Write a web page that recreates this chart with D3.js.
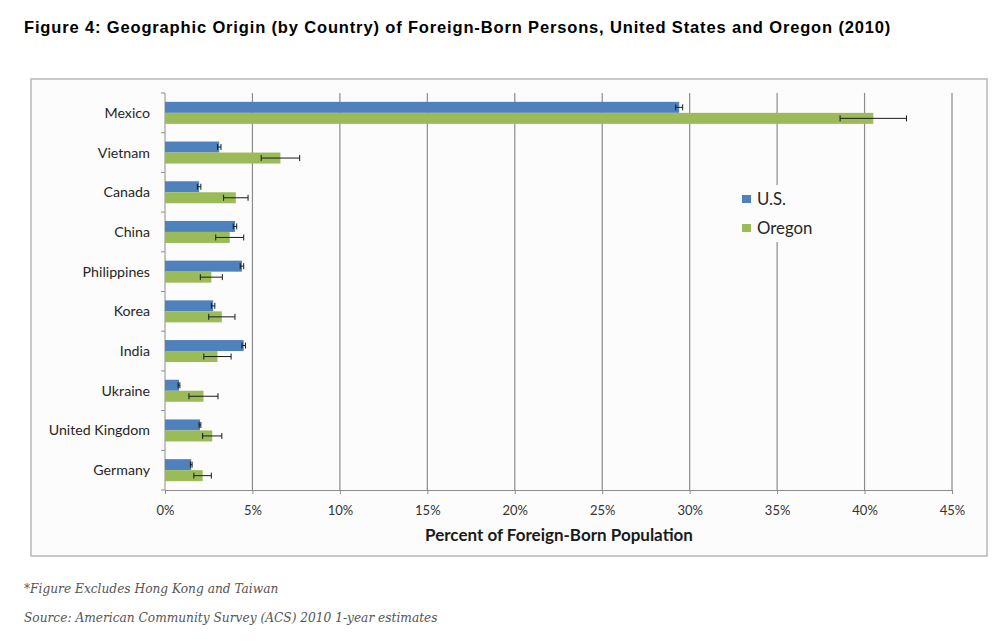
<!DOCTYPE html>
<html>
<head>
<meta charset="utf-8">
<script src="https://cdn.jsdelivr.net/npm/d3@7"></script>
<style>
  body { margin: 0; background: #fff; }
  svg { display: block; }
</style>
</head>
<body>
<svg width="999" height="642"></svg>
<script>
// data (percent of foreign-born population)
var countries = ['Mexico', 'Vietnam', 'Canada', 'China', 'Philippines', 'Korea', 'India', 'Ukraine', 'United Kingdom', 'Germany'];
var usValues = [29.4, 3.1, 1.95, 4.0, 4.4, 2.75, 4.5, 0.8, 2.0, 1.5];
var usErrors = [0.2, 0.1, 0.1, 0.1, 0.1, 0.1, 0.1, 0.05, 0.05, 0.05];
var orValues = [40.5, 6.6, 4.05, 3.7, 2.65, 3.25, 3.0, 2.2, 2.7, 2.15];
var orErrors = [1.9, 1.1, 0.7, 0.8, 0.63, 0.75, 0.78, 0.83, 0.55, 0.5];
var xTicks = [0, 5, 10, 15, 20, 25, 30, 35, 40, 45];
var seriesNames = ['U.S.', 'Oregon'];
var seriesColors = ['#4f81bd', '#9bbb59'];

var svg = d3.select('svg');

var margin = {top: 93, left: 165, right: 45, bottom: 153};

// title
svg.append('text')
    .attr('x', 24)
    .attr('y', 33)
    .style('font-family', '"Liberation Sans", Arial, sans-serif')
    .style('font-weight', 'bold')
    .style('font-size', '16.5px')
    .style('letter-spacing', '0.85px')
    .text('Figure 4: Geographic Origin (by Country) of Foreign-Born Persons, United States and Oregon (2010)');

// chart box
svg.append('rect')
    .attr('x', 31)
    .attr('y', 79)
    .attr('width', 956)
    .attr('height', 477)
    .attr('fill', '#fcfcfc')
    .attr('stroke', '#b8b8b8')
    .attr('stroke-width', 1.5);

var x = d3.scaleLinear().domain([0, 45]).range([0, 787]);
var y = d3.scaleBand().domain(countries).range([0, 397]);

var g = svg.append('g')
    .attr('transform', 'translate(' + margin.left + ',' + margin.top + ')');

// grid lines
g.append('g').selectAll('line')
    .data(xTicks.slice(1))
    .enter()
    .append('line')
    .attr('x1', function (d) { return x(d); })
    .attr('x2', function (d) { return x(d); })
    .attr('y1', 0)
    .attr('y2', y.range()[1])
    .attr('stroke', '#8c8c8c')
    .attr('stroke-width', 1.2);

// x axis
var xAxis = g.append('g')
    .attr('transform', 'translate(0,' + y.range()[1] + ')')
    .call(d3.axisBottom(x).tickValues(xTicks).tickSize(4).tickPadding(12)
        .tickFormat(function (d) { return d + '%'; }));
xAxis.select('.domain').attr('stroke', '#8c8c8c');
xAxis.selectAll('.tick line').attr('stroke', '#8c8c8c');
xAxis.selectAll('text')
    .style('font-family', 'Lato, "Open Sans", sans-serif')
    .style('font-size', '13px')
    .attr('fill', '#333');

// y axis: ticks between categories
var yAxis = g.append('g');
yAxis.append('line')
    .attr('x1', 0).attr('x2', 0)
    .attr('y1', 0).attr('y2', y.range()[1])
    .attr('stroke', '#8c8c8c');
yAxis.selectAll('line.tk')
    .data(d3.range(countries.length + 1))
    .enter()
    .append('line')
    .attr('class', 'tk')
    .attr('x1', -4).attr('x2', 0)
    .attr('y1', function (i) { return i * y.step(); })
    .attr('y2', function (i) { return i * y.step(); })
    .attr('stroke', '#8c8c8c');
yAxis.selectAll('text')
    .data(countries)
    .enter()
    .append('text')
    .attr('x', -15)
    .attr('y', function (d) { return y(d) + y.bandwidth() / 2; })
    .attr('dy', '0.35em')
    .attr('text-anchor', 'end')
    .style('font-family', 'Lato, "Open Sans", sans-serif')
    .style('font-size', '14.2px')
    .attr('fill', '#262626')
    .text(function (d) { return d; });

// bars
var barH = 11;
var series = [
    {values: usValues, errors: usErrors, offset: -barH},
    {values: orValues, errors: orErrors, offset: 0}
];

series.forEach(function (s, k) {
    var rows = countries.map(function (c, i) {
        return {c: c, v: s.values[i], e: s.errors[i]};
    });
    var sg = g.append('g');
    sg.selectAll('rect')
        .data(rows)
        .enter()
        .append('rect')
        .attr('x', 0)
        .attr('y', function (d) { return y(d.c) + y.bandwidth() / 2 + s.offset; })
        .attr('width', function (d) { return x(d.v); })
        .attr('height', barH)
        .attr('fill', seriesColors[k]);

    // error bars
    var eb = sg.selectAll('g.err')
        .data(rows)
        .enter()
        .append('g')
        .attr('class', 'err')
        .attr('transform', function (d) {
            return 'translate(0,' + (y(d.c) + y.bandwidth() / 2 + s.offset + barH / 2) + ')';
        });
    eb.append('line')
        .attr('x1', function (d) { return x(d.v - d.e); })
        .attr('x2', function (d) { return x(d.v + d.e); })
        .attr('stroke', '#1a1a1a')
        .attr('stroke-width', 1);
    eb.selectAll('line.cap')
        .data(function (d) { return [d.v - d.e, d.v + d.e]; })
        .enter()
        .append('line')
        .attr('class', 'cap')
        .attr('x1', function (d) { return x(d); })
        .attr('x2', function (d) { return x(d); })
        .attr('y1', -3)
        .attr('y2', 3)
        .attr('stroke', '#1a1a1a')
        .attr('stroke-width', 1);
});

// axis title
svg.append('text')
    .attr('x', 559)
    .attr('y', 541)
    .attr('text-anchor', 'middle')
    .style('font-family', 'Lato, "Open Sans", sans-serif')
    .style('font-weight', 'bold')
    .style('font-size', '17px')
    .attr('fill', '#1a1a1a')
    .text('Percent of Foreign-Born Population');

// legend
var legend = svg.append('g').attr('transform', 'translate(730,185)');
legend.append('rect')
    .attr('width', 100)
    .attr('height', 57)
    .attr('fill', '#fcfcfc');
legend.selectAll('g')
    .data(seriesNames)
    .enter()
    .append('g')
    .attr('transform', function (d, i) { return 'translate(12,' + (10 + i * 29) + ')'; })
    .each(function (d, i) {
        var lg = d3.select(this);
        lg.append('rect')
            .attr('width', 9).attr('height', 8)
            .attr('fill', seriesColors[i]);
        lg.append('text')
            .attr('x', 15)
            .attr('y', 4)
            .attr('dy', '0.38em')
            .style('font-family', 'Lato, "Open Sans", sans-serif')
            .style('font-size', '16.8px')
            .attr('fill', '#262626')
            .text(d);
    });

// notes
var notes = ['*Figure Excludes Hong Kong and Taiwan', 'Source: American Community Survey (ACS) 2010 1-year estimates'];
svg.selectAll('text.note')
    .data(notes)
    .enter()
    .append('text')
    .attr('class', 'note')
    .attr('x', 24)
    .attr('y', function (d, i) { return 593 + i * 29; })
    .style('font-family', '"DejaVu Serif", Georgia, serif')
    .style('font-style', 'italic')
    .style('font-size', '12.2px')
    .attr('fill', '#555')
    .text(function (d) { return d; });
</script>
</body>
</html>
